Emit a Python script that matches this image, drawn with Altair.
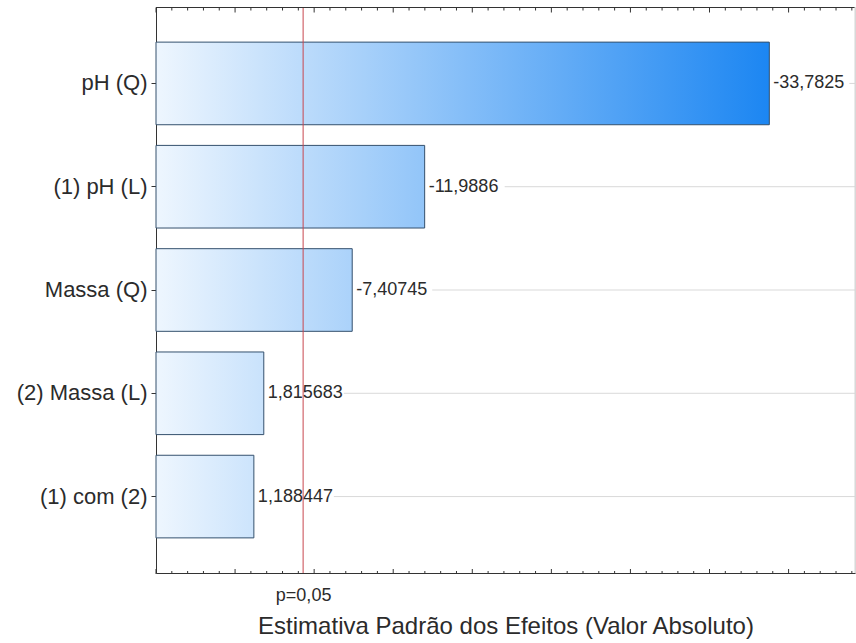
import altair as alt

# Pareto chart of standardized effects (absolute t values)
effects = ["pH (Q)", "(1) pH (L)", "Massa (Q)", "(2) Massa (L)", "(1) com (2)"]
t_values = [-33.7825, -11.9886, -7.40745, 1.815683, 1.188447]
p_critical = 4.303          # t critical value for p = 0.05
p_label = "p=0,05"
x_min, x_max = -5, 39.2
major_ticks = list(range(-5, 40, 5))
minor_ticks = [v for v in range(-5, 40) if v % 5]

FONT = "Liberation Sans"
W, H = 699, 566
INK = "#2b2b2b"

# bar fill: one horizontal gradient spanning the whole axis, clipped per bar
span = max(abs(v) for v in t_values) - x_min
rows = []
for name, v in zip(effects, t_values):
    length = abs(v) - x_min
    rows.append({
        "effect": name,
        "value": abs(v),
        "label": str(v).replace(".", ","),
        "grad": {
            "gradient": "linear", "x1": 0, "y1": 0, "x2": span / length, "y2": 0,
            "stops": [{"offset": 0, "color": "#eef6fe"},
                      {"offset": 1, "color": "#1c86f2"}],
        },
    })
bars_data = alt.Data(values=rows)

xscale = alt.Scale(domain=[x_min, x_max], nice=False, zero=False)
yenc = alt.Y("effect:N", sort=effects, title=None,
             scale=alt.Scale(paddingInner=0.2, paddingOuter=0.34),
             axis=alt.Axis(labelFont=FONT, labelFontSize=22, labelColor=INK,
                           tickSize=5, tickColor="#333", domainColor="#333",
                           labelPadding=4, grid=False))

grid = alt.Chart(bars_data).mark_rule(color="#d9d9d9", strokeWidth=1, xOffset=80).encode(
    x=alt.X("value:Q", scale=xscale),
    x2=alt.datum(x_max),
    y=yenc,
)

bars = alt.Chart(bars_data).mark_bar(stroke="#34506d", strokeWidth=1).encode(
    x=alt.X("value:Q", scale=xscale, stack=None, title="Estimativa Padrão dos Efeitos (Valor Absoluto)",
            axis=alt.Axis(values=[p_critical], labelExpr=f"'{p_label}'", ticks=False, tickSize=0,
                          labelFont=FONT, labelFontSize=18, labelColor=INK, labelPadding=13,
                          domainColor="#333", grid=False,
                          titleFont=FONT, titleFontSize=24, titleFontWeight="normal",
                          titleColor=INK, titlePadding=10)),
    x2=alt.datum(x_min),
    y=yenc,
    fill=alt.Fill("grad:N", scale=None, legend=None),
)

labels = alt.Chart(bars_data).mark_text(align="left", baseline="middle", dx=4,
                                         font=FONT, fontSize=18, color=INK).encode(
    x=alt.X("value:Q", scale=xscale),
    y=yenc,
    text="label:N",
)

pline = alt.Chart(alt.Data(values=[{"p": p_critical}])).mark_rule(color="#c8474f", strokeWidth=1).encode(
    x=alt.X("p:Q", scale=xscale),
)

major_df = alt.Data(values=[{"t": v} for v in major_ticks])
minor_df = alt.Data(values=[{"t": v} for v in minor_ticks])

def ticks(data, y0, y1, color="#333"):
    return alt.Chart(data).mark_rule(color=color, strokeWidth=1).encode(
        x=alt.X("t:Q", scale=xscale),
        y=alt.value(y0), y2=alt.value(y1),
    )

# frame edges: dark top, faint right
edges = alt.Chart(alt.Data(values=[{"a": x_min, "b": x_max}]))
top_edge = edges.mark_rule(color="#333", strokeWidth=1).encode(
    x=alt.X("a:Q", scale=xscale), x2="b:Q", y=alt.value(0.5),
)
right_edge = edges.mark_rule(color="#d4d4d4", strokeWidth=1).encode(
    x=alt.X("b:Q", scale=xscale), y=alt.value(0), y2=alt.value(H),
)

chart = alt.layer(
    grid, bars, labels, pline, top_edge, right_edge,
    ticks(major_df, H - 4, H + 1), ticks(minor_df, H - 2, H),
    ticks(major_df, 0.5, 5.5), ticks(minor_df, 0.5, 3.5),
).properties(
    width=W, height=H,
    autosize=alt.AutoSizeParams(type="none"),
    padding={"left": 156, "top": 7, "right": 1, "bottom": 70},
).configure_view(strokeWidth=0).configure(background="white")

chart.save("out.html", embed_options={"renderer": "svg", "actions": False})
